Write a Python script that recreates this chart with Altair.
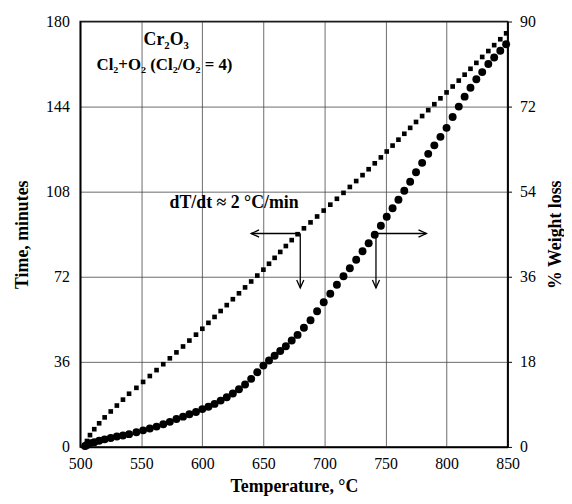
import altair as alt
import pandas as pd

# Temperature (°C) of each reading
temps = [504, 505.5, 508, 511.5, 515.5, 520, 525, 530, 535, 540,
         546, 551.5, 557, 562.5, 568, 573.4, 578.8, 584.2, 589.4, 594.8,
         600, 605, 610, 615, 620, 625, 630, 635, 640, 645,
         650, 654.6, 659.2, 663.8, 668.4, 673.2, 678, 683.2, 688.6, 694,
         699.4, 704.8, 710.2, 715.6, 720.8, 726, 731.2, 736.2, 741.2, 746.2,
         751, 755.8, 760.6, 765.4, 770.2, 775, 780, 785, 790, 795,
         800, 805, 810, 814.8, 819.6, 824.4, 829.2, 834.2, 839, 844, 848.8]

# Elapsed time (minutes), left axis
times = [0, 2.5, 5, 7.5, 10, 12.5, 15, 17.5, 20, 22.5,
         25, 27.5, 30, 32.5, 35, 37.5, 40, 42.5, 45, 47.5,
         50, 52.5, 55, 57.5, 60, 62.5, 65, 67.5, 70, 72.5,
         75, 77.5, 80, 82.5, 85, 87.5, 90, 92.5, 95, 97.5,
         100, 102.5, 105, 107.5, 110, 112.5, 115, 117.5, 120, 122.5,
         125, 127.5, 130, 132.5, 135, 137.5, 140, 142.5, 145, 147.5,
         150, 152.5, 155, 157.5, 160, 162.5, 165, 167.5, 170, 172.5, 175]

# % Weight loss, right axis
weights = [0.2, 0.4, 0.8, 1.0, 1.3, 1.6, 1.9, 2.2, 2.4, 2.7,
           3.1, 3.5, 3.9, 4.3, 4.8, 5.3, 5.9, 6.4, 6.9, 7.4,
           8.0, 8.5, 9.1, 9.8, 10.5, 11.3, 12.2, 13.2, 14.4, 15.8,
           17.2, 18.3, 19.3, 20.3, 21.3, 22.5, 23.7, 25.2, 26.8, 28.7,
           30.6, 32.4, 34.3, 36.1, 37.8, 39.6, 41.4, 43.1, 44.9, 46.8,
           48.7, 50.5, 52.3, 54.2, 56.1, 58.1, 60.1, 62.0, 63.8, 65.6,
           67.5, 69.8, 72.0, 74.1, 76.0, 77.8, 79.3, 81.0, 82.4, 83.8, 85.2]

x_ticks = [500, 550, 600, 650, 700, 750, 800, 850]
time_ticks = [0, 36, 72, 108, 144, 180]
wt_ticks = [0, 18, 36, 54, 72, 90]

# annotation arrows (temperature, time)
seg_x = [640, 742.2, 680.2, 742.2]
seg_x2 = [680.2, 783.5, 680.2, 742.2]
seg_y = [90.3, 90.3, 90.3, 90.3]
seg_y2 = [90.3, 90.3, 67.3, 67.3]

FONT = "Liberation Serif"

df = pd.DataFrame({"T": temps, "time": times, "wt": weights})
segs = pd.DataFrame({"x": seg_x, "x2": seg_x2, "y": seg_y, "y2": seg_y2})

xscale = alt.Scale(domain=[500, 850], nice=False)
tscale = alt.Scale(domain=[0, 180], nice=False)
wscale = alt.Scale(domain=[0, 90], nice=False)

xaxis = alt.Axis(values=x_ticks, title="Temperature, °C", grid=True, ticks=False,
                 labelPadding=9, titlePadding=6, format="d", labelFlush=False)
taxis = alt.Axis(values=time_ticks, title="Time, minutes", grid=True,
                 ticks=False, labelPadding=11, titlePadding=14, labelFlush=False)
waxis = alt.Axis(orient="right", values=wt_ticks, title="% Weight loss",
                 grid=False, ticks=True, tickSize=4, labelPadding=8,
                 titlePadding=11, titleAngle=270, titleBaseline="top",
                 labelFlush=False)

squares = alt.Chart(df).mark_point(shape="square", filled=True, size=22,
                                   color="black", opacity=1).encode(
    x=alt.X("T:Q", scale=xscale, axis=xaxis),
    y=alt.Y("time:Q", scale=tscale, axis=taxis),
)

rules = alt.Chart(segs).mark_rule(color="black", strokeWidth=1.3).encode(
    x=alt.X("x:Q", scale=xscale, axis=xaxis),
    x2="x2:Q",
    y=alt.Y("y:Q", scale=tscale, axis=taxis),
    y2="y2:Q",
)

def head(px, py, path):
    d = pd.DataFrame({"x": px, "y": py})
    return alt.Chart(d).mark_point(shape=path, filled=False, size=64,
                                   color="black", strokeWidth=1.3, opacity=1).encode(
        x=alt.X("x:Q", scale=xscale, axis=xaxis),
        y=alt.Y("y:Q", scale=tscale, axis=taxis),
    )

left_head = head([640], [90.3], "M2,-0.9L0,0L2,0.9")
right_head = head([783.5], [90.3], "M-2,-0.9L0,0L-2,0.9")
down_heads = head([680.2, 742.2], [67.3, 67.3], "M-0.9,-2L0,0L0.9,-2")

def label(tx, ty, txt, size):
    d = pd.DataFrame({"x": [tx], "y": [ty], "t": [txt]})
    return alt.Chart(d).mark_text(font=FONT, fontSize=size, fontWeight="bold",
                                  color="black").encode(
        x=alt.X("x:Q", scale=xscale, axis=xaxis),
        y=alt.Y("y:Q", scale=tscale, axis=taxis),
        text="t:N",
    )

t1 = label(570.4, 172, "Cr₂O₃", 18)
t2 = label(569, 161.6, "Cl₂+O₂ (Cl₂/O₂ = 4)", 17)
t3 = label(626, 103, "dT/dt ≈ 2 °C/min", 18)

circles = alt.Chart(df).mark_circle(size=64, color="black", opacity=1).encode(
    x=alt.X("T:Q", scale=xscale, axis=xaxis),
    y=alt.Y("wt:Q", scale=wscale, axis=waxis),
)

left = alt.layer(squares, rules, left_head, right_head, down_heads, t1, t2, t3)

chart = alt.layer(left, circles).resolve_scale(y="independent").properties(
    width=432, height=430,
    padding={"left": 6, "top": 3, "right": 0, "bottom": 2},
).configure_view(stroke="black", strokeWidth=1.5).configure_axis(
    labelFont=FONT, labelFontSize=16, labelColor="black",
    titleFont=FONT, titleFontSize=18, titleFontWeight="bold", titleColor="black",
    domainColor="black", domainWidth=1.5, tickColor="black",
    gridColor="#444", gridWidth=0.8, gridOpacity=1,
)

chart.save("out.html", embed_options={"renderer": "svg", "actions": False})
